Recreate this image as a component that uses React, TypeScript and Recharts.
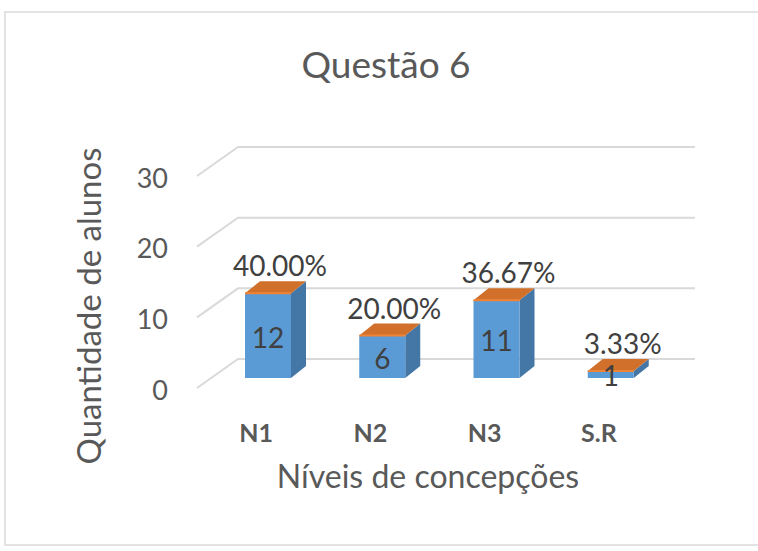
import React from 'react';
import { BarChart, Bar, XAxis, YAxis, CartesianGrid, LabelList, Label } from 'recharts';

const categories = ['N1', 'N2', 'N3', 'S.R'];
const alunos = [12, 6, 11, 1];
const percentLabels = ['40.00%', '20.00%', '36.67%', '3.33%'];
const yTicks = [0, 10, 20, 30];

const data = categories.map((c, i) => ({ name: c, value: alunos[i], pct: percentLabels[i] }));

const W = 758;
const H = 551;
const FONT = 'Lato, "Open Sans", sans-serif';
const TEXT = '#595959';
const LABEL = '#404040';
const DX = 15; // bar depth x
const DY = 12; // bar depth y

const plotLeft = 211;
const plotRight = 668;
const plotTop = 166;
const plotBottom = 378;
const xAxisH = 60;

const Bar3D = (props: any) => {
  const { x, y, width, height } = props;
  if (width == null) return null;
  const w = width;
  const h = Math.max(height, 0);
  return (
    <g>
      <polygon
        points={`${x + w},${y} ${x + w + DX},${y - DY} ${x + w + DX},${y + h - DY} ${x + w},${y + h}`}
        fill="#4477A6"
      />
      <rect x={x} y={y} width={w} height={h} fill="#5B9BD5" />
      <polygon
        points={`${x},${y} ${x + DX},${y - DY} ${x + w + DX},${y - DY} ${x + w},${y}`}
        fill="#D0702A"
      />
      <line x1={x} y1={y} x2={x + w} y2={y} stroke="#F08436" strokeWidth={2} />
    </g>
  );
};

const gridLine = (p: any) => {
  const { x1, x2, y1, key } = p;
  const fx = x1 - 14;
  const fy = y1 + 10;
  const bx = x1 + 27;
  const by = y1 - 19;
  return (
    <path
      key={key}
      d={`M${fx},${fy} L${bx},${by} L${x2 + 27},${by}`}
      stroke="#D9D9D9"
      strokeWidth={2}
      fill="none"
    />
  );
};

const YTick = (p: any) => {
  const { y, payload } = p;
  return (
    <text
      x={plotLeft - 43}
      y={y + 11}
      textAnchor="end"
      dominantBaseline="central"
      fontFamily={FONT}
      fontSize={27}
      fill={TEXT}
    >
      {payload.value}
    </text>
  );
};

const XTick = (p: any) => {
  const { x, payload } = p;
  return (
    <text
      x={x - 12}
      y={plotBottom + 64}
      textAnchor="middle"
      fontFamily={FONT}
      fontWeight={700}
      fontSize={25}
      fill={TEXT}
    >
      {payload.value}
    </text>
  );
};

const ValueLabel = (p: any) => {
  const { x, y, width, height, value } = p;
  return (
    <text
      x={x + width / 2}
      y={y + height / 2 + 1}
      textAnchor="middle"
      dominantBaseline="central"
      fontFamily={FONT}
      fontSize={28}
      fill={LABEL}
    >
      {value}
    </text>
  );
};

const PctLabel = (p: any) => {
  const { x, y, width, value } = p;
  return (
    <text
      x={x + width / 2 + 12}
      y={y - 17}
      textAnchor="middle"
      fontFamily={FONT}
      fontSize={28}
      fill={LABEL}
    >
      {value}
    </text>
  );
};

export default function App() {
  return (
    <div style={{ position: 'fixed', left: 0, top: 0, width: W, height: H, background: '#fff' }}>
      <BarChart
        width={W}
        height={H}
        data={data}
        margin={{ top: plotTop, right: W - plotRight, bottom: H - plotBottom - xAxisH, left: 0 }}
      >
        <CartesianGrid vertical={false} horizontal={gridLine} />
        <YAxis
          domain={[0, 30]}
          ticks={yTicks}
          width={plotLeft}
          axisLine={false}
          tickLine={false}
          tick={<YTick />}
          interval={0}
        />
        <XAxis
          dataKey="name"
          height={xAxisH}
          axisLine={false}
          tickLine={false}
          tick={<XTick />}
          interval={0}
          label={
            <Label
              content={() => (
                <text
                  x={428}
                  y={488}
                  textAnchor="middle"
                  fontFamily={FONT}
                  fontSize={32}
                  fill={TEXT}
                >
                  Níveis de concepções
                </text>
              )}
            />
          }
        />
        <Bar dataKey="value" barSize={46} shape={<Bar3D />} isAnimationActive={false}>
          <LabelList dataKey="value" content={<ValueLabel />} />
          <LabelList dataKey="pct" content={<PctLabel />} />
        </Bar>
      </BarChart>
      <svg
        width={W}
        height={H}
        style={{ position: 'absolute', left: 0, top: 0, pointerEvents: 'none' }}
      >
        <path d={`M${W + 2},12 L5,12 L5,545 L${W + 2},545`} stroke="#E3E3E3" strokeWidth={2} fill="none" />
        <text x={386} y={78} textAnchor="middle" fontFamily={FONT} fontSize={37} fill={TEXT}>
          Questão 6
        </text>
        <text
          x={101}
          y={306}
          textAnchor="middle"
          transform="rotate(-90 101 306)"
          fontFamily={FONT}
          fontSize={33}
          fill={TEXT}
        >
          Quantidade de alunos
        </text>
      </svg>
    </div>
  );
}
